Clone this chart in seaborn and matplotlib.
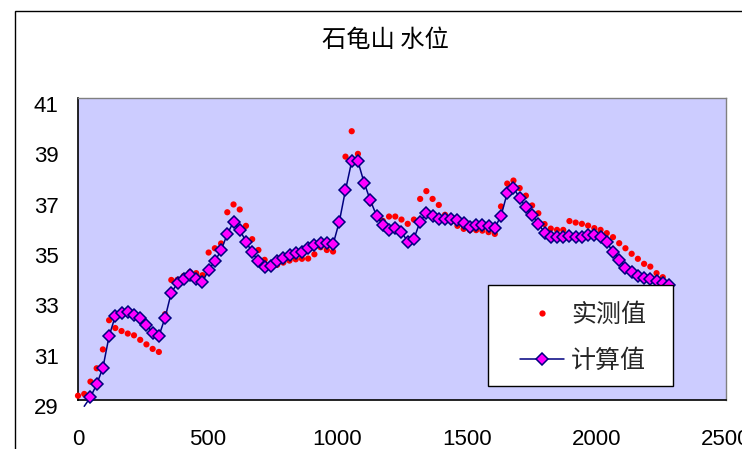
import matplotlib
matplotlib.use("Agg")
import matplotlib.pyplot as plt
import matplotlib.transforms as mtransforms
from matplotlib.patches import Rectangle
from matplotlib.lines import Line2D
import seaborn as sns
import pandas as pd

# ---------------- data ----------------
title_text = "石龟山 水位"
label_measured = "实测值"
label_computed = "计算值"

x_measured = [0, 24, 48, 72, 96, 120, 144, 168, 192, 216, 240, 264, 288, 312, 336, 360,
              384, 408, 432, 456, 480, 504, 528, 552, 576, 600, 624, 648, 672, 696, 720, 744,
              768, 792, 816, 840, 864, 888, 912, 936, 960, 984, 1008, 1032, 1056, 1080, 1104, 1128,
              1152, 1176, 1200, 1224, 1248, 1272, 1296, 1320, 1344, 1368, 1392, 1416, 1440, 1464, 1488, 1512,
              1536, 1560, 1584, 1608, 1632, 1656, 1680, 1704, 1728, 1752, 1776, 1800, 1824, 1848, 1872, 1896,
              1920, 1944, 1968, 1992, 2016, 2040, 2064, 2088, 2112, 2136, 2160, 2184, 2208, 2232, 2256, 2280]
y_measured = [29.17, 29.24, 29.73, 30.26, 31.01, 32.17, 31.86, 31.74, 31.64, 31.57, 31.39, 31.21, 31.03, 30.91, 32.41, 33.77,
              33.78, 33.93, 34.08, 34.04, 33.96, 34.86, 35.03, 35.22, 36.46, 36.77, 36.57, 35.92, 35.39, 34.96, 34.57, 34.40,
              34.37, 34.46, 34.54, 34.59, 34.61, 34.62, 34.79, 35.07, 34.96, 34.90, 36.00, 38.67, 39.68, 38.78, 37.52, 36.82,
              36.28, 36.12, 36.29, 36.29, 36.17, 36.00, 36.17, 36.99, 37.30, 36.99, 36.75, 36.36, 36.09, 35.92, 35.80, 35.75,
              35.75, 35.73, 35.67, 35.60, 36.69, 37.60, 37.72, 37.42, 37.12, 36.73, 36.42, 35.99, 35.81, 35.76, 35.76, 36.11,
              36.05, 36.00, 35.93, 35.83, 35.76, 35.63, 35.47, 35.23, 35.03, 34.81, 34.61, 34.41, 34.30, 34.04, 33.88, 33.61]

x_computed = [24, 48, 72, 96, 120, 144, 168, 192, 216, 240, 264, 288, 312, 336, 360,
              384, 408, 432, 456, 480, 504, 528, 552, 576, 600, 624, 648, 672, 696, 720, 744,
              768, 792, 816, 840, 864, 888, 912, 936, 960, 984, 1008, 1032, 1056, 1080, 1104, 1128,
              1152, 1176, 1200, 1224, 1248, 1272, 1296, 1320, 1344, 1368, 1392, 1416, 1440, 1464, 1488, 1512,
              1536, 1560, 1584, 1608, 1632, 1656, 1680, 1704, 1728, 1752, 1776, 1800, 1824, 1848, 1872, 1896,
              1920, 1944, 1968, 1992, 2016, 2040, 2064, 2088, 2112, 2136, 2160, 2184, 2208, 2232, 2256, 2280]
y_computed = [28.75, 29.11, 29.62, 30.28, 31.54, 32.34, 32.45, 32.51, 32.39, 32.27, 31.97, 31.68, 31.54, 32.27, 33.27,
              33.64, 33.81, 33.98, 33.81, 33.68, 34.18, 34.51, 34.95, 35.59, 36.08, 35.77, 35.29, 34.87, 34.51, 34.29, 34.34,
              34.54, 34.66, 34.77, 34.85, 34.90, 35.02, 35.14, 35.24, 35.24, 35.18, 36.08, 37.34, 38.48, 38.48, 37.63, 36.93,
              36.32, 35.95, 35.77, 35.84, 35.68, 35.29, 35.41, 36.09, 36.42, 36.32, 36.20, 36.20, 36.20, 36.14, 36.04, 35.89,
              35.97, 35.97, 35.90, 35.84, 36.32, 37.22, 37.44, 37.02, 36.66, 36.36, 36.01, 35.65, 35.48, 35.47, 35.47, 35.53,
              35.46, 35.49, 35.56, 35.56, 35.49, 35.26, 34.89, 34.58, 34.26, 34.10, 33.93, 33.84, 33.80, 33.73, 33.64, 33.55]

x_ticks = [0, 500, 1000, 1500, 2000, 2500]
y_ticks = [29, 31, 33, 35, 37, 39, 41]

# ---------------- style ----------------
sns.set_theme(style="white")
plt.rcParams["font.family"] = ["Liberation Sans", "Noto Sans CJK SC", "DejaVu Sans"]

W, H = 742, 449
fig = plt.figure(figsize=(W / 100, H / 100), dpi=100)
fig.patch.set_facecolor("white")

def fx(px):
    return px / W

def fy(py):
    return 1 - py / H

ax = fig.add_axes([fx(78), fy(400), fx(726) - fx(78), fy(98) - fy(400)])
ax.set_facecolor("#CCCCFF")

df_m = pd.DataFrame({"x": x_measured, "y": y_measured})
df_c = pd.DataFrame({"x": x_computed, "y": y_computed})

sns.scatterplot(data=df_m, x="x", y="y", ax=ax, color="#FF0000", s=20,
                edgecolor="none", linewidth=0, zorder=3, clip_on=False, legend=False)
sns.lineplot(data=df_c, x="x", y="y", ax=ax, color="#000080", linewidth=1.1,
             marker="D", markersize=6.3, markerfacecolor="#FF00FF",
             markeredgecolor="#000080", markeredgewidth=1.1,
             markevery=list(range(1, len(x_computed))), zorder=4, clip_on=False,
             legend=False, sort=False)

ax.set_xlim(0, 2500)
ax.set_ylim(29, 41)
ax.set_xticks(x_ticks)
ax.set_yticks(y_ticks)
ax.set_xticklabels([str(v) for v in x_ticks])
ax.set_yticklabels([str(v) for v in y_ticks])
ax.set_xlabel("")
ax.set_ylabel("")

ax.tick_params(axis="both", direction="in", length=6, width=1.2, color="black",
               labelsize=16, labelcolor="black")
ax.tick_params(axis="x", pad=21)
ax.tick_params(axis="y", pad=14)
for lab in ax.get_yticklabels():
    lab.set_transform(lab.get_transform() +
                      mtransforms.ScaledTranslation(0, -0.06, fig.dpi_scale_trans))

for side in ["left", "bottom"]:
    ax.spines[side].set_color("black")
    ax.spines[side].set_linewidth(1.2)
for side in ["top", "right"]:
    ax.spines[side].set_color("#808080")
    ax.spines[side].set_linewidth(1.0)

# title
fig.text(fx(385), fy(39.5), title_text, ha="center", va="center", fontsize=17.5,
         color="black", family=["Noto Sans CJK SC", "DejaVu Sans"])

# figure (chart area) border, cropped at right/bottom
fig.patches.append(Rectangle((fx(15), -0.2), 2.0, fy(11) + 0.2, transform=fig.transFigure,
                             facecolor="none", edgecolor="black", linewidth=1.0, zorder=0))

# legend box
fig.patches.append(Rectangle((fx(488.5), fy(385.5)), fx(672.5) - fx(488.5), fy(285) - fy(385.5),
                             transform=fig.transFigure, facecolor="white",
                             edgecolor="black", linewidth=1.0, zorder=5))
h_m = Line2D([], [], linestyle="", marker="o", markersize=4.5, color="#FF0000",
             markeredgewidth=0)
h_c = Line2D([], [], color="#000080", linewidth=1.1, marker="D", markersize=6.3,
             markerfacecolor="#FF00FF", markeredgecolor="#000080", markeredgewidth=1.1)
leg = fig.legend([h_m, h_c], [label_measured, label_computed], loc="upper left",
                 bbox_to_anchor=(fx(520), fy(302)), frameon=False,
                 handlelength=1.75, handletextpad=0.3, labelspacing=0.8, borderpad=0,
                 borderaxespad=0, prop={"family": ["Noto Sans CJK SC", "DejaVu Sans"], "size": 18})
leg.set_zorder(6)

fig.savefig("out.png", dpi=100)
